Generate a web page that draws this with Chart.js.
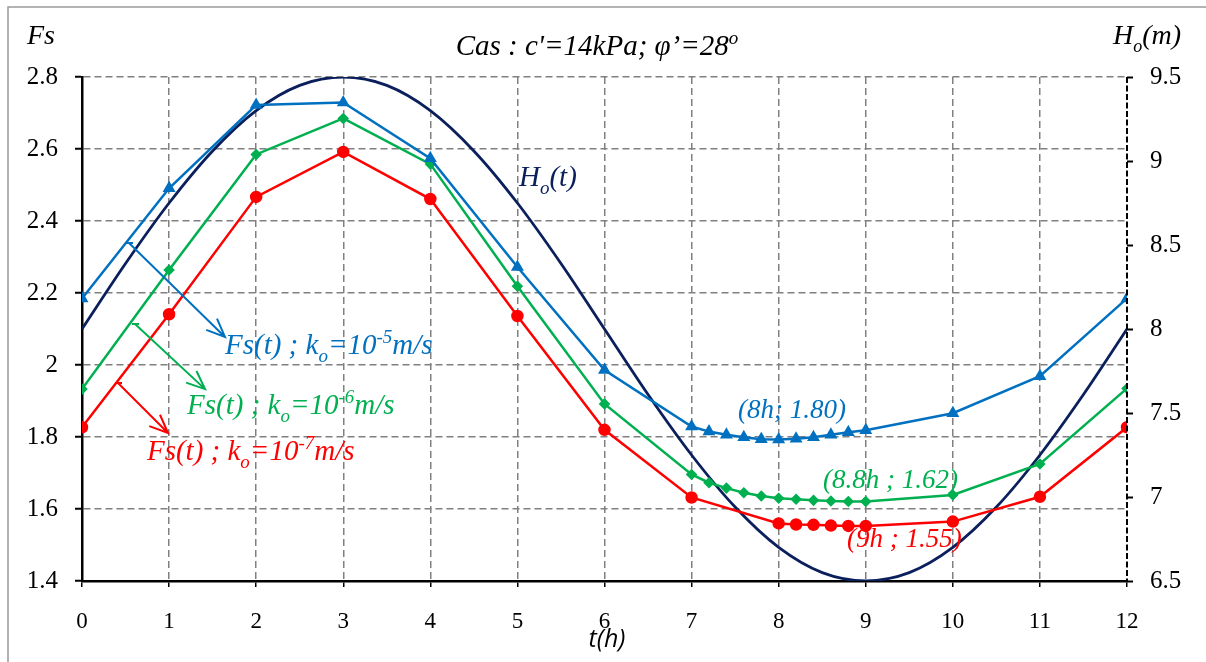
<!DOCTYPE html>
<html lang="fr">
<head>
  <meta charset="UTF-8">
  <title>Fs(t) et Ho(t)</title>
  <style>
    body { margin: 0; background: #fff; }
    canvas { display: block; }
  </style>
</head>
<body>
  <canvas id="fsChart" width="1206" height="662"></canvas>

  <script src="https://cdn.jsdelivr.net/npm/chart.js"></script>
  <script>
    // axes
    const hourTicks = [0, 1, 2, 3, 4, 5, 6, 7, 8, 9, 10, 11, 12];
    const fsTicks = [1.4, 1.6, 1.8, 2, 2.2, 2.4, 2.6, 2.8];
    const hoTicks = [6.5, 7, 7.5, 8, 8.5, 9, 9.5];

    // Fs(t), k = 1e-5 m/s (blue)
    const tBlue = [0, 1, 2, 3, 4, 5, 6, 7, 7.2, 7.4, 7.6, 7.8, 8, 8.2, 8.4, 8.6, 8.8, 9, 10, 11, 12];
    const fsBlue = [2.185, 2.491, 2.722, 2.729, 2.574, 2.272, 1.986, 1.829, 1.815, 1.806, 1.799, 1.794, 1.793,
                    1.795, 1.799, 1.806, 1.813, 1.819, 1.866, 1.969, 2.185];
    // Fs(t), k = 1e-6 m/s (green)
    const tGreen = [0, 1, 2, 3, 4, 5, 6, 7, 7.2, 7.4, 7.6, 7.8, 8, 8.2, 8.4, 8.6, 8.8, 9, 10, 11, 12];
    const fsGreen = [1.933, 2.264, 2.585, 2.685, 2.558, 2.219, 1.892, 1.696, 1.673, 1.658, 1.645, 1.636, 1.630,
                     1.627, 1.624, 1.622, 1.621, 1.621, 1.639, 1.725, 1.935];
    // Fs(t), k = 1e-7 m/s (red)
    const tRed = [0, 1, 2, 3, 4, 5, 6, 7, 8, 8.2, 8.4, 8.6, 8.8, 9, 10, 11, 12];
    const fsRed = [1.827, 2.141, 2.467, 2.592, 2.461, 2.136, 1.820, 1.632, 1.560, 1.557, 1.556, 1.554,
                   1.553, 1.553, 1.565, 1.634, 1.827];
    // Ho(t) water level (navy, right axis)
    const tHo = [0, 0.5, 1, 1.5, 2, 2.5, 3, 3.5, 4, 4.5, 5, 5.5, 6, 6.5, 7, 7.5, 8, 8.5, 9, 9.5, 10, 10.5, 11, 11.5, 12];
    const hoVals = [8.0, 8.39, 8.75, 9.06, 9.30, 9.45, 9.5, 9.45, 9.30, 9.06, 8.75, 8.39, 8.0,
                    7.61, 7.25, 6.94, 6.70, 6.55, 6.5, 6.55, 6.70, 6.94, 7.25, 7.61, 8.0];

    const pts = (xs, ys) => xs.map((x, i) => ({ x: x, y: ys[i] }));

    const SERIF = '"Liberation Serif", "Times New Roman", serif';
    const BLUE = '#0070C0', GREEN = '#00B050', RED = '#FF0000', NAVY = '#0B1F5C';
    const GRID = '#808080';

    // draw text made of pieces, some as sub/superscript
    function rich(ctx, parts, x, y, size, color, align) {
      const small = Math.round(size * 0.66);
      let w = 0;
      parts.forEach(p => {
        ctx.font = 'italic ' + (p.s ? small : size) + 'px ' + SERIF;
        w += ctx.measureText(p.t).width;
      });
      let cx = align === 'center' ? x - w / 2 : x;
      ctx.fillStyle = color;
      ctx.textBaseline = 'alphabetic';
      ctx.textAlign = 'left';
      parts.forEach(p => {
        ctx.font = 'italic ' + (p.s ? small : size) + 'px ' + SERIF;
        let dy = 0;
        if (p.s === 'sub') dy = size * 0.28;
        if (p.s === 'sup') dy = -size * 0.38;
        ctx.fillText(p.t, cx, y + dy);
        cx += ctx.measureText(p.t).width;
      });
    }

    function arrow(ctx, x1, y1, x2, y2, color) {
      ctx.save();
      ctx.strokeStyle = color;
      ctx.lineWidth = 2;
      ctx.beginPath();
      ctx.moveTo(x1, y1);
      ctx.lineTo(x1 + 7, y1);
      ctx.moveTo(x1 + 3, y1);
      ctx.lineTo(x2, y2);
      const a = Math.atan2(y2 - y1, x2 - x1);
      const L = 20;
      ctx.moveTo(x2 - L * Math.cos(a - 0.4), y2 - L * Math.sin(a - 0.4));
      ctx.lineTo(x2, y2);
      ctx.lineTo(x2 - L * Math.cos(a + 0.4), y2 - L * Math.sin(a + 0.4));
      ctx.stroke();
      ctx.restore();
    }

    const annotations = {
      id: 'annotations',
      afterDraw(chart) {
        const ctx = chart.ctx;
        const { x, yFs } = chart.scales;
        const ca = chart.chartArea;
        const X = v => x.getPixelForValue(v);
        const Y = v => yFs.getPixelForValue(v);

        ctx.save();
        // outer frame
        ctx.strokeStyle = '#9a9a9a';
        ctx.lineWidth = 1.5;
        ctx.strokeRect(8, 7, 1400, 800);

        // dashed right axis
        ctx.strokeStyle = '#000';
        ctx.lineWidth = 2;
        ctx.setLineDash([6, 2.5]);
        ctx.beginPath();
        ctx.moveTo(ca.right, ca.top);
        ctx.lineTo(ca.right, ca.bottom);
        ctx.stroke();
        ctx.setLineDash([]);

        // axis titles
        rich(ctx, [{ t: 'Fs' }], 27, 44, 28, '#000');
        rich(ctx, [{ t: 'H' }, { t: 'o', s: 'sub' }, { t: '(m)' }], 1113, 44, 28, '#000');
        rich(ctx, [{ t: 'Cas : c\'=14kPa; \u03C6\u2019=28' }, { t: 'o', s: 'sup' }], 597, 55, 29, '#000', 'center');
        ctx.font = 'italic 25px "Open Sans", sans-serif';
        ctx.fillStyle = '#000';
        ctx.textAlign = 'center';
        ctx.fillText('t(h)', 607, 647);

        // leader arrows
        arrow(ctx, X(0.505), Y(2.339), X(1.642), Y(2.078), BLUE);
        arrow(ctx, X(0.574), Y(2.114), X(1.413), Y(1.933), GREEN);
        arrow(ctx, X(0.379), Y(1.950), X(0.988), Y(1.811), RED);

        // series labels
        rich(ctx, [{ t: 'Fs(t) ; k' }, { t: 'o', s: 'sub' }, { t: '=10' }, { t: '-5', s: 'sup' }, { t: 'm/s' }],
             X(1.642), Y(2.030), 29, BLUE);
        rich(ctx, [{ t: 'Fs(t) ; k' }, { t: 'o', s: 'sub' }, { t: '=10' }, { t: '-6', s: 'sup' }, { t: 'm/s' }],
             X(1.206), Y(1.864), 29, GREEN);
        rich(ctx, [{ t: 'Fs(t) ; k' }, { t: 'o', s: 'sub' }, { t: '=10' }, { t: '-7', s: 'sup' }, { t: 'm/s' }],
             X(0.746), Y(1.736), 29, RED);
        rich(ctx, [{ t: 'H' }, { t: 'o', s: 'sub' }, { t: '(t)' }], X(5.018), Y(2.497), 29, NAVY);

        // minimum labels
        rich(ctx, [{ t: '(8h; 1.80)' }], X(7.533), Y(1.853), 27, BLUE);
        rich(ctx, [{ t: '(8.8h ; 1.62)' }], X(8.51), Y(1.658), 27, GREEN);
        rich(ctx, [{ t: '(9h ; 1.55)' }], X(8.785), Y(1.494), 27, RED);
        ctx.restore();
      }
    };

    const fmt = v => String(+v.toFixed(1));

    new Chart(document.getElementById('fsChart'), {
      type: 'line',
      data: {
        datasets: [
          {
            label: 'Fs k=1e-5', data: pts(tBlue, fsBlue), yAxisID: 'yFs',
            borderColor: BLUE, backgroundColor: BLUE, borderWidth: 2.5,
            pointStyle: 'triangle', pointRadius: 5, tension: 0
          },
          {
            label: 'Fs k=1e-6', data: pts(tGreen, fsGreen), yAxisID: 'yFs',
            borderColor: GREEN, backgroundColor: GREEN, borderWidth: 2.5,
            pointStyle: 'rectRot', pointRadius: 4, tension: 0
          },
          {
            label: 'Fs k=1e-7', data: pts(tRed, fsRed), yAxisID: 'yFs',
            borderColor: RED, backgroundColor: RED, borderWidth: 2.5,
            pointStyle: 'circle', pointRadius: 5, tension: 0
          },
          {
            label: 'Ho(t)', data: pts(tHo, hoVals), yAxisID: 'yHo',
            borderColor: NAVY, borderWidth: 2.8, pointRadius: 0,
            cubicInterpolationMode: 'monotone'
          }
        ]
      },
      options: {
        responsive: false,
        animation: false,
        devicePixelRatio: 1,
        layout: { padding: { top: 77, left: 0, right: 0, bottom: 0 } },
        plugins: { legend: { display: false }, tooltip: { enabled: false } },
        scales: {
          x: {
            type: 'linear', min: 0, max: 12,
            afterBuildTicks: s => { s.ticks = hourTicks.map(v => ({ value: v })); },
            afterFit: s => { s.height = 81; },
            ticks: { font: { family: SERIF, size: 23 }, color: '#000', padding: 21, maxRotation: 0, autoSkip: false },
            grid: {
              color: c => (c.index === 0 || c.index === 12) ? 'rgba(0,0,0,0)' : GRID,
              lineWidth: 1.5, tickLength: 6, tickColor: '#000', tickWidth: 1.5
            },
            border: { display: true, color: '#000', width: 2.5, dash: [7, 4] }
          },
          yFs: {
            type: 'linear', position: 'left', min: 1.4, max: 2.8,
            afterBuildTicks: s => { s.ticks = fsTicks.map(v => ({ value: v })); },
            afterFit: s => { s.width = 82; },
            ticks: { font: { family: SERIF, size: 25 }, color: '#000', padding: 17, callback: fmt },
            grid: {
              color: c => c.index === 0 ? 'rgba(0,0,0,0)' : GRID,
              lineWidth: 1.5, tickLength: 7, tickColor: '#000', tickWidth: 2
            },
            border: { display: true, color: '#000', width: 2.5, dash: [7, 4] }
          },
          yHo: {
            type: 'linear', position: 'right', min: 6.5, max: 9.5,
            afterBuildTicks: s => { s.ticks = hoTicks.map(v => ({ value: v })); },
            afterFit: s => { s.width = 79; },
            ticks: { font: { family: SERIF, size: 25 }, color: '#000', padding: 17, callback: fmt },
            grid: { drawOnChartArea: false, tickLength: 6, tickColor: '#000', tickWidth: 2 },
            border: { display: false }
          }
        }
      },
      plugins: [annotations]
    });
  </script>
</body>
</html>
